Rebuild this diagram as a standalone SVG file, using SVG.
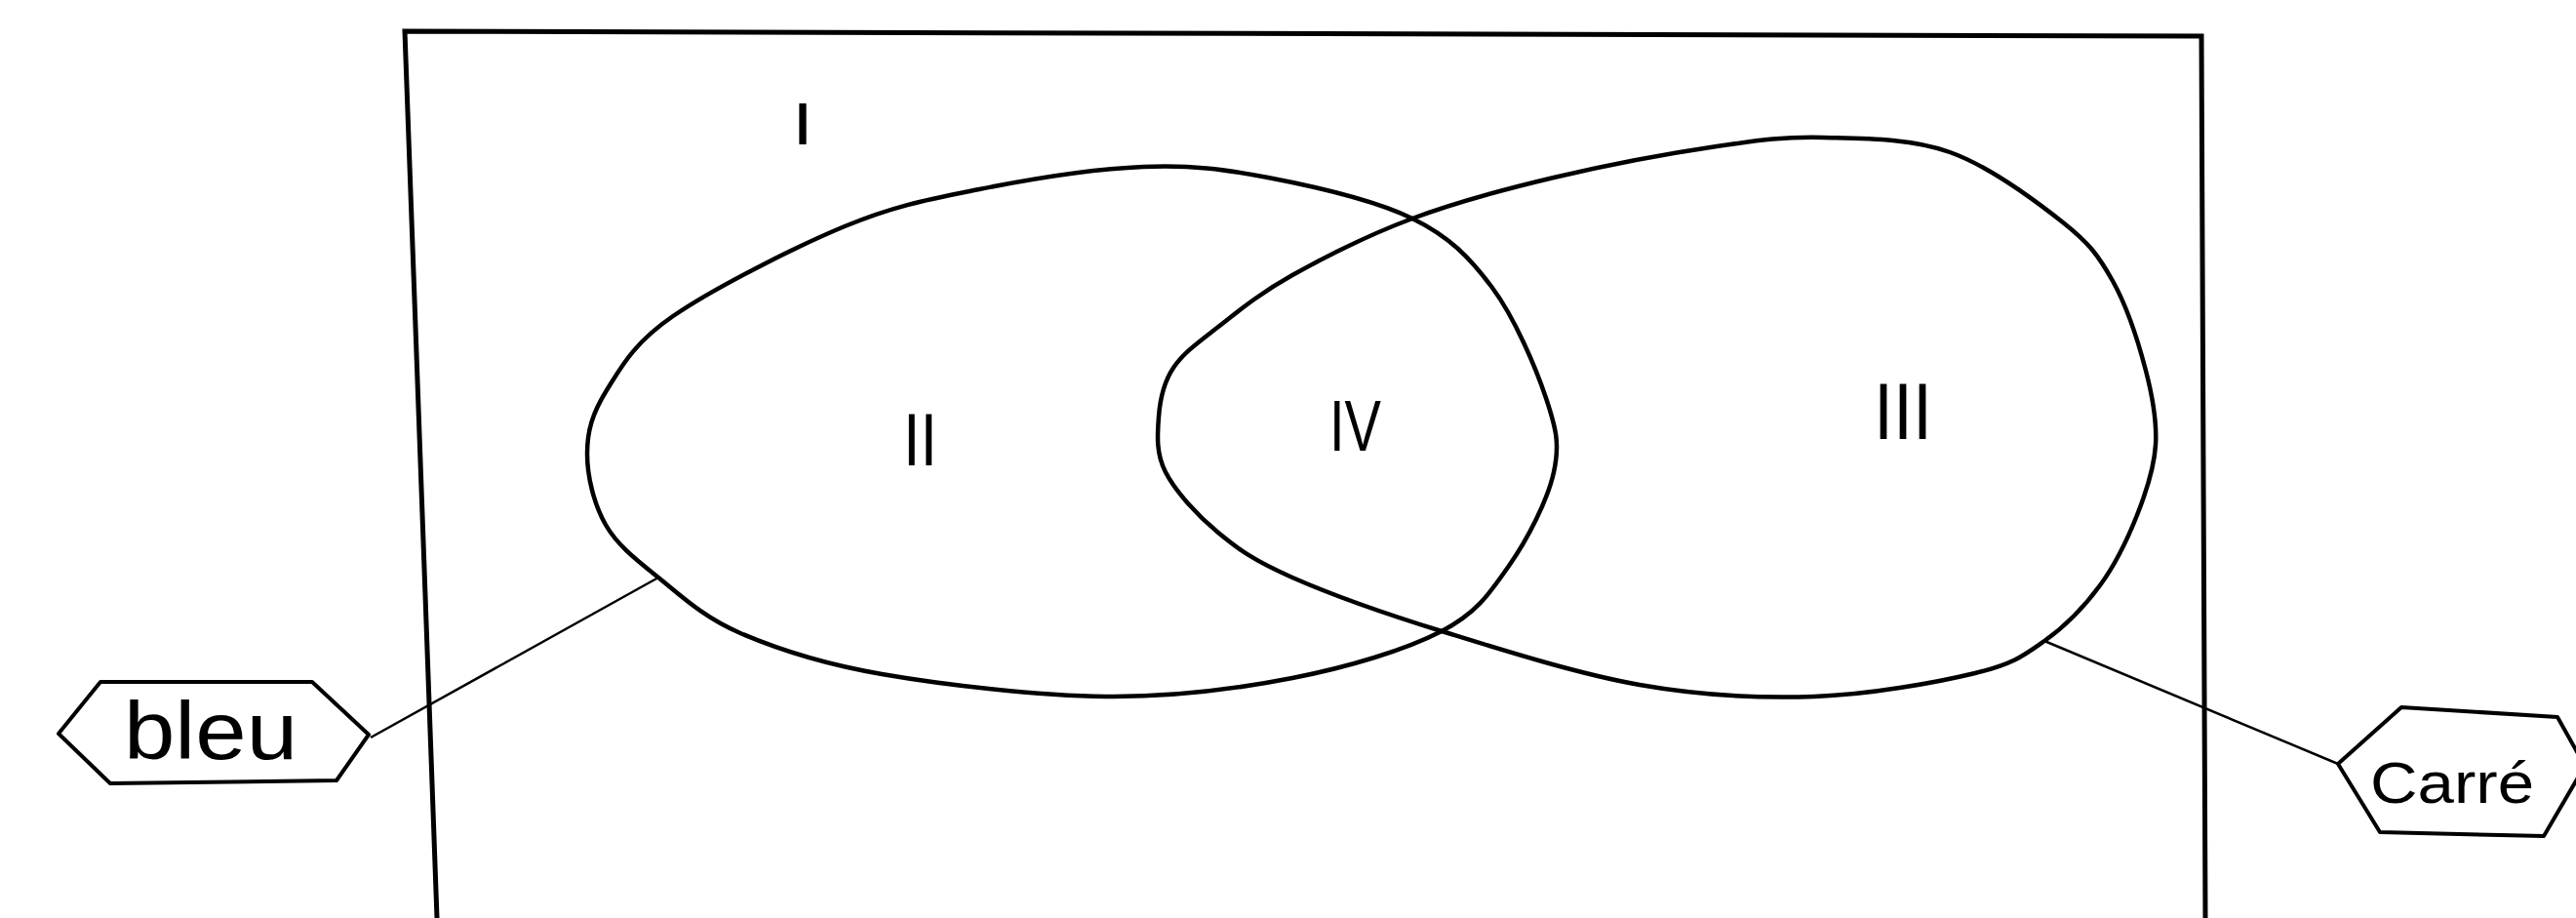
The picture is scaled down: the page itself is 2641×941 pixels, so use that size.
<svg xmlns="http://www.w3.org/2000/svg" width="2641" height="941" viewBox="0 0 2641 941">
<style>
.frame{fill:none;stroke:#000;stroke-width:5;stroke-linejoin:miter}
.blob{fill:none;stroke:#000;stroke-width:4.5}
.conn{fill:none;stroke:#000;stroke-width:2.5}
.tag{fill:#fff;stroke:#000;stroke-width:4;stroke-linejoin:round}
.num{font-family:"Liberation Sans",Arial,sans-serif;fill:#000;text-anchor:start}
.lbl{font-family:"Liberation Sans",Arial,sans-serif;fill:#000}
</style>
<rect width="2641" height="941" fill="#fff"/>
<g id="universe">
<path class="frame" d="M448 941 L415 32 L2257 37 L2261 941"/>
<text class="num" x="816" y="148" font-size="62" font-weight="bold" textLength="14" lengthAdjust="spacingAndGlyphs">I</text>
</g>
<g id="blue-set">
<path class="blob" d="M602 465 C602 442 607.3 423.5 622 400 S649.3 352 690 324 S813.7 253.7 866 232 S953 204.2 1004 194 S1122.7 173 1172 171 S1254 173.2 1300 182 S1409.7 205.2 1448 224 S1507.2 264.3 1530 295 S1574.5 376.5 1585 408 S1599.3 455.3 1593 484 S1566.2 552.8 1547 580 S1515 627.8 1478 647 S1382.3 683.8 1325 695 S1204.2 714.7 1134 714 S966.5 701.8 904 691 S797.2 665.5 759 649 S698 610.5 675 592 S633.2 559.2 621 538 S602 488 602 465 Z"/>
<text class="num" x="926" y="477" font-size="76" textLength="35" lengthAdjust="spacingAndGlyphs">II</text>
</g>
<g id="square-set">
<path class="blob" d="M1448 224 C1492.7 207.3 1541 194.3 1593 182 S1713.8 156.8 1760 150 S1830.2 140 1870 141 S1958.2 141.5 1999 156 S2087.2 206 2115 228 S2151.8 262.7 2166 288 S2192.7 352 2200 380 S2211.5 431.3 2210 456 S2200.5 504 2191 528 S2168.8 578.5 2153 600 S2117.3 642 2096 657 S2064.3 680.5 2025 690 S1917.3 712 1860 714 S1744.7 713.2 1681 702 S1537.3 665.3 1478 647 S1363.2 608.8 1325 592 S1270.7 564 1249 546 S1205.2 503.8 1195 484 S1186.7 444.8 1188 427 S1192.8 392.3 1203 377 S1228.7 350.8 1249 335 S1291.8 300.5 1325 282 S1403.3 240.7 1448 224 Z"/>
<text class="num" x="1921" y="450" font-size="82" textLength="60" lengthAdjust="spacingAndGlyphs">III</text>
</g>
<g id="intersection">
<text class="num" x="1363" y="462" font-size="74" textLength="53" lengthAdjust="spacingAndGlyphs">IV</text>
</g>
<g id="connectors">
<line class="conn" x1="380" y1="756" x2="675" y2="592"/>
<line class="conn" x1="2096" y1="657" x2="2397" y2="783"/>
</g>
<g id="tag-bleu">
<polygon class="tag" points="60,752 103,699 320,699 378,753 345,800 113,803"/>
<text class="lbl" x="127" y="778" font-size="84" textLength="178" lengthAdjust="spacingAndGlyphs">bleu</text>
</g>
<g id="tag-carre">
<polygon class="tag" points="2397,783 2462,725 2622,735 2650,785 2608,857 2440,853"/>
<text class="lbl" x="2430" y="823" font-size="59" textLength="168" lengthAdjust="spacingAndGlyphs">Carré</text>
</g>
</svg>
